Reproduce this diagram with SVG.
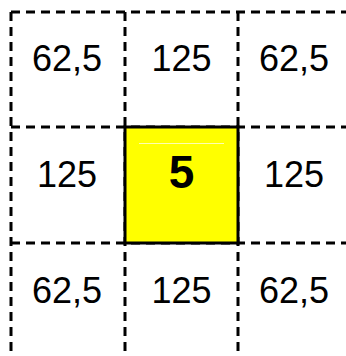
<svg xmlns="http://www.w3.org/2000/svg" width="346" height="356" viewBox="0 0 346 356">
  <style>
    .grid { stroke: #000; stroke-width: 3; stroke-dasharray: 9 6; fill: none; }
    .lbl { font-family: "Liberation Sans", Arial, sans-serif; font-size: 36px; fill: #000; text-anchor: middle; }
    .big { font-family: "Liberation Sans", Arial, sans-serif; font-size: 46px; font-weight: bold; fill: #000; text-anchor: middle; }
  </style>
  <rect width="346" height="356" fill="#fff"/>
  <g id="connectors">
    <line class="grid" x1="11" y1="12" x2="346" y2="12"/>
    <line class="grid" x1="11" y1="127" x2="346" y2="127"/>
    <line class="grid" x1="11" y1="243" x2="346" y2="243"/>
    <line class="grid" x1="11" y1="12" x2="11" y2="356"/>
    <line class="grid" x1="125" y1="12" x2="125" y2="356"/>
    <line class="grid" x1="238" y1="12" x2="238" y2="356"/>
  </g>
  <g id="c11"><text class="lbl" x="67" y="71">62,5</text></g>
  <g id="c12"><text class="lbl" x="181.5" y="71">125</text></g>
  <g id="c13"><text class="lbl" x="294" y="71">62,5</text></g>
  <g id="c21"><text class="lbl" x="67" y="187">125</text></g>
  <g id="c22">
    <rect x="125" y="127" width="113" height="116" fill="#ffff00" stroke="#000" stroke-width="3"/>
    <line x1="139" y1="143.5" x2="224" y2="143.5" stroke="#ffffb0" stroke-width="1"/>
    <text class="big" x="181.5" y="188">5</text>
  </g>
  <g id="c23"><text class="lbl" x="294" y="187">125</text></g>
  <g id="c31"><text class="lbl" x="67" y="303">62,5</text></g>
  <g id="c32"><text class="lbl" x="181.5" y="303">125</text></g>
  <g id="c33"><text class="lbl" x="294" y="303">62,5</text></g>
</svg>
